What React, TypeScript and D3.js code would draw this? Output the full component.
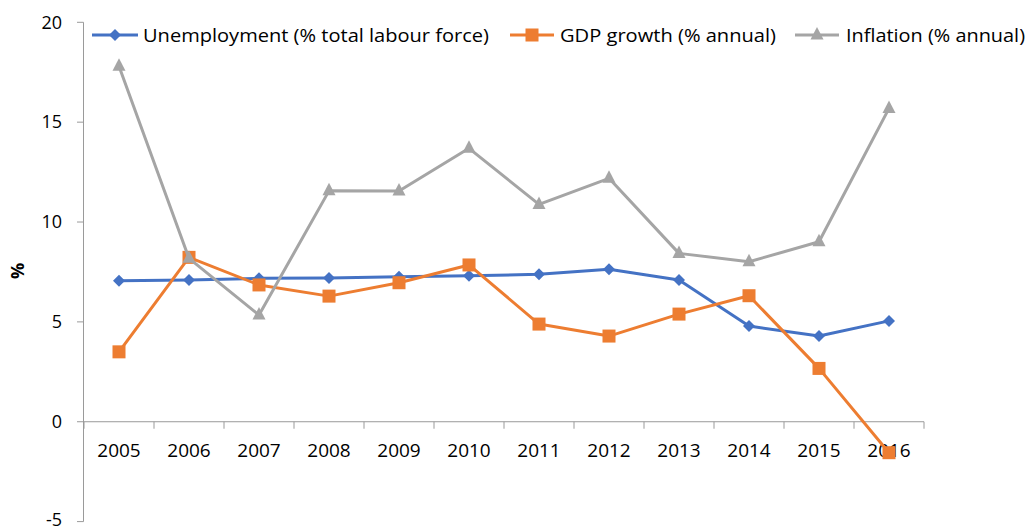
import React from "react";
import * as d3 from "d3";

const years = ["2005","2006","2007","2008","2009","2010","2011","2012","2013","2014","2015","2016"];
const unemployment = [7.06, 7.1, 7.18, 7.2, 7.26, 7.31, 7.38, 7.63, 7.1, 4.79, 4.29, 5.05];
const gdpGrowth = [3.5, 8.23, 6.85, 6.29, 6.96, 7.85, 4.89, 4.29, 5.39, 6.31, 2.67, -1.55];
const inflation = [17.8, 8.18, 5.34, 11.56, 11.55, 13.69, 10.88, 12.19, 8.43, 8.01, 9.01, 15.69];
const yTicks = [-5, 0, 5, 10, 15, 20];

const seriesNames = ["Unemployment (% total labour force)", "GDP growth (% annual)", "Inflation (% annual)"];
const seriesColors = ["#4472C4", "#ED7D31", "#A5A5A5"];
const seriesMarkers = ["diamond", "square", "triangle"];

const FONT = "'Open Sans', 'Liberation Sans', sans-serif";

function Marker({ type, x, y, color }: { type: string; x: number; y: number; color: string }) {
  if (type === "diamond") {
    const s = 6;
    return <path d={`M${x},${y - s}L${x + s},${y}L${x},${y + s}L${x - s},${y}Z`} fill={color} />;
  }
  if (type === "square") {
    const s = 6.5;
    return <rect x={x - s} y={y - s} width={2 * s} height={2 * s} fill={color} />;
  }
  const w = 6.5;
  return <path d={`M${x},${y - 8}L${x + w},${y + 4.5}L${x - w},${y + 4.5}Z`} fill={color} />;
}

export default function App() {
  const width = 1030, height = 529;
  const x = d3.scaleBand<string>().domain(years).range([84, 924]).padding(0);
  const y = d3.scaleLinear().domain([-5, 20]).range([521.6, 22.3]);
  const cx = (yr: string) => (x(yr) as number) + x.bandwidth() / 2;
  const line = d3.line<[string, number]>().x(d => cx(d[0])).y(d => y(d[1]));
  const allSeries = [unemployment, gdpGrowth, inflation];
  const axisColor = "#9a9a9a";
  const boundaries = d3.range(years.length + 1).map(i => 84 + i * x.bandwidth());

  const legend = [
    { lx1: 92, lx2: 138, tx: 143, tw: 346 },
    { lx1: 510, lx2: 554, tx: 560, tw: 216 },
    { lx1: 795, lx2: 839, tx: 846, tw: 179 },
  ];

  return (
    <svg width={width} height={height} style={{ position: "absolute", left: 0, top: 0, background: "#fff" }} fontFamily={FONT}>
      {/* y axis */}
      <line x1={83.5} x2={83.5} y1={y(20)} y2={y(-5)} stroke={axisColor} strokeWidth={1} />
      {yTicks.map(t => (
        <g key={t}>
          <line x1={77} x2={83.5} y1={y(t)} y2={y(t)} stroke={axisColor} strokeWidth={1} />
          <text x={62} y={t === -5 ? y(t) - 1.5 : y(t)} dy="0.35em" textAnchor="end" fontSize={18} fill="#000">{t}</text>
        </g>
      ))}
      {/* x axis at 0 */}
      <line x1={83.5} x2={924} y1={y(0)} y2={y(0)} stroke={axisColor} strokeWidth={1} />
      {boundaries.map((b, i) => (
        <line key={i} x1={b} x2={b} y1={y(0)} y2={y(0) + 7} stroke={axisColor} strokeWidth={1} />
      ))}
      {years.map(yr => (
        <text key={yr} x={cx(yr)} y={457} textAnchor="middle" fontSize={19} fill="#000">{yr}</text>
      ))}
      {/* y label */}
      <text transform={`translate(24,271) rotate(-90)`} textAnchor="middle" fontSize={18} fontWeight="bold" fill="#000">%</text>
      {/* series */}
      {allSeries.map((vals, si) => {
        const pts: [string, number][] = years.map((yr, i) => [yr, vals[i]]);
        return (
          <g key={si}>
            <path d={line(pts) || ""} fill="none" stroke={seriesColors[si]} strokeWidth={3} strokeLinejoin="round" />
            {pts.map((p, i) => (
              <Marker key={i} type={seriesMarkers[si]} x={cx(p[0])} y={y(p[1])} color={seriesColors[si]} />
            ))}
          </g>
        );
      })}
      {/* legend */}
      {legend.map((l, i) => (
        <g key={i}>
          <line x1={l.lx1} x2={l.lx2} y1={35} y2={35} stroke={seriesColors[i]} strokeWidth={3} />
          <Marker type={seriesMarkers[i]} x={(l.lx1 + l.lx2) / 2} y={35} color={seriesColors[i]} />
          <text x={l.tx} y={35} dy="0.35em" fontSize={19} fill="#000" textLength={l.tw} lengthAdjust="spacingAndGlyphs">{seriesNames[i]}</text>
        </g>
      ))}
    </svg>
  );
}
